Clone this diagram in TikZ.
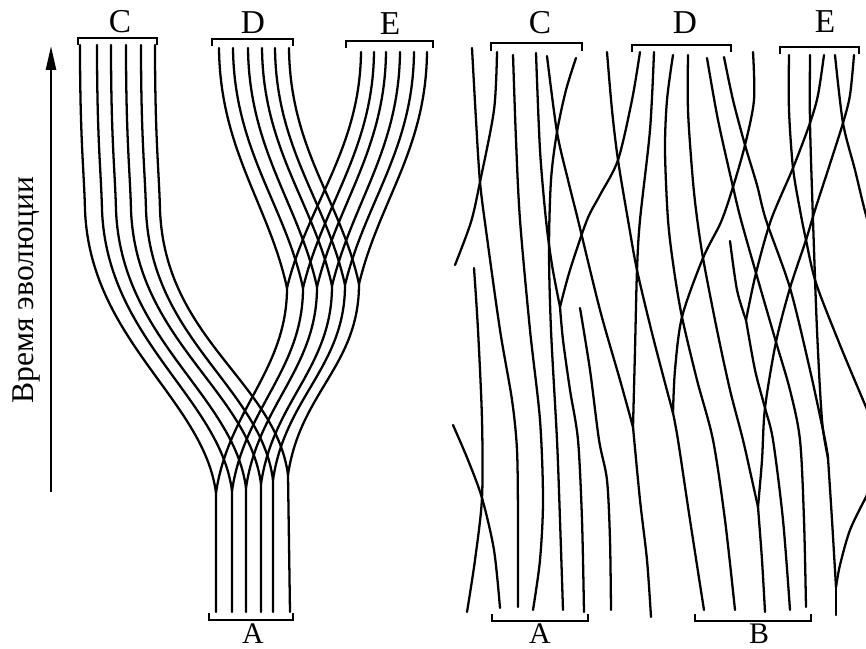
\documentclass[tikz,border=0pt]{standalone}
\usepackage{fontspec}
\setmainfont{Liberation Serif}
\usetikzlibrary{arrows.meta}

\begin{document}
\begin{tikzpicture}[
  x=0.02cm,y=-0.02cm,
  lin/.style={line width=1.3pt,draw=black,line cap=round,line join=round},
  brk/.style={line width=1.1pt,draw=black},
  lbl/.style={inner sep=0pt,font=\fontsize{19}{19}\selectfont},
  blbl/.style={inner sep=0pt,font=\fontsize{17}{17}\selectfont},
  axis/.style={line width=1.4pt,-{Triangle[length=4.8mm,width=2mm]}}
]
\useasboundingbox (0,0) rectangle (866,649);

\coordinate (tb) at (51,492);
\coordinate (tt) at (51,46);
\draw[axis] (tb) -- (tt);
\node[lbl,font=\fontsize{18}{18}\selectfont,rotate=90,anchor=base] (tlab) at (33,290) {Время эволюции};

\node[lbl] (lC) at (120,22) {C};
\node[lbl] (lD) at (253,23) {D};
\node[lbl] (lE) at (390,24) {E};
\node[blbl] (lA) at (253,634) {A};
\draw[brk] (78,45) -- (78,38) -- (157,38) -- (157,45);
\draw[brk] (212,46) -- (212,39) -- (293,39) -- (293,46);
\draw[brk] (346,48) -- (346,41) -- (433,41) -- (433,48);
\draw[brk] (209,613) -- (209,620) -- (293,620) -- (293,613);

\coordinate (c0) at (80,45);
\coordinate (c1) at (97,45);
\coordinate (c2) at (111,45);
\coordinate (c3) at (126,45);
\coordinate (c4) at (141,45);
\coordinate (c5) at (155,45);
\coordinate (d0) at (219,48);
\coordinate (d1) at (233,48);
\coordinate (d2) at (248,48);
\coordinate (d3) at (262,48);
\coordinate (d4) at (275,48);
\coordinate (d5) at (289,48);
\coordinate (e0) at (361,52);
\coordinate (e1) at (374,52);
\coordinate (e2) at (386,52);
\coordinate (e3) at (400,52);
\coordinate (e4) at (414,52);
\coordinate (e5) at (427,52);
\coordinate (m0) at (287,288);
\coordinate (m1) at (303,288);
\coordinate (m2) at (317,287);
\coordinate (m3) at (332,286);
\coordinate (m4) at (345,285);
\coordinate (m5) at (359,284);
\coordinate (a0) at (216,493);
\coordinate (a1) at (232,491);
\coordinate (a2) at (246,488);
\coordinate (a3) at (261,484);
\coordinate (a4) at (273,480);
\coordinate (a5) at (288,475);
\coordinate (b0) at (216,612);
\coordinate (b1) at (232,612);
\coordinate (b2) at (246,612);
\coordinate (b3) at (261,612);
\coordinate (b4) at (273,612);
\coordinate (b5) at (290,612);

\draw[lin] (c0) .. controls (80,140) and (84,170) .. (85,210) .. controls (90,340) and (204,400) .. (a0) -- (b0);
\draw[lin] (c1) .. controls (97,140) and (101,170) .. (102,210) .. controls (107,340) and (220,398) .. (a1) -- (b1);
\draw[lin] (c2) .. controls (111,140) and (115,170) .. (116,210) .. controls (121,340) and (234,395) .. (a2) -- (b2);
\draw[lin] (c3) .. controls (126,140) and (130,170) .. (131,210) .. controls (136,340) and (249,391) .. (a3) -- (b3);
\draw[lin] (c4) .. controls (141,140) and (145,170) .. (146,210) .. controls (151,340) and (261,387) .. (a4) -- (b4);
\draw[lin] (c5) .. controls (155,140) and (159,170) .. (160,210) .. controls (165,340) and (276,382) .. (a5) -- (b5);

\draw[lin] (d0) .. controls (220,150) and (269,205) .. (m0) .. controls (287,370) and (228,410) .. (a0);
\draw[lin] (d1) .. controls (234,150) and (285,205) .. (m1) .. controls (303,370) and (244,408) .. (a1);
\draw[lin] (d2) .. controls (249,150) and (299,204) .. (m2) .. controls (317,369) and (258,405) .. (a2);
\draw[lin] (d3) .. controls (263,150) and (314,203) .. (m3) .. controls (332,368) and (273,401) .. (a3);
\draw[lin] (d4) .. controls (276,150) and (327,202) .. (m4) .. controls (345,367) and (285,397) .. (a4);
\draw[lin] (d5) .. controls (290,150) and (341,201) .. (m5) .. controls (359,366) and (300,392) .. (a5);

\draw[lin] (e0) .. controls (360,150) and (307,205) .. (m0);
\draw[lin] (e1) .. controls (373,150) and (323,205) .. (m1);
\draw[lin] (e2) .. controls (385,150) and (337,204) .. (m2);
\draw[lin] (e3) .. controls (399,150) and (352,203) .. (m3);
\draw[lin] (e4) .. controls (413,150) and (365,202) .. (m4);
\draw[lin] (e5) .. controls (426,150) and (379,201) .. (m5);

\node[lbl] (rC) at (540,23) {C};
\node[lbl] (rD) at (685,23) {D};
\node[lbl] (rE) at (825,22) {E};
\node[blbl] (rA) at (540,634) {A};
\node[blbl] (rB) at (759,634) {B};
\draw[brk] (491,51) -- (491,43) -- (582,43) -- (582,51);
\draw[brk] (632,52) -- (632,45) -- (731,45) -- (731,52);
\draw[brk] (780,54) -- (780,47) -- (859,47) -- (859,54);
\draw[brk] (492,614) -- (492,621) -- (588,621) -- (588,614);
\draw[brk] (695,614) -- (695,621) -- (811,621) -- (811,614);

\coordinate (v1) at (560,307);
\coordinate (v2) at (633,427);
\coordinate (v3) at (673,413);
\coordinate (v4) at (758,507);
\coordinate (v5) at (828,458);
\coordinate (v6) at (746,320);
\coordinate (v7) at (836,587);

\draw[lin] plot[smooth] coordinates {(472,48) (476,120) (480,182) (486,230) (500,330) (512,400) (517,450) (518,520) (518,607)};
\draw[lin] plot[smooth] coordinates {(497,52) (494,110) (480,182) (471,222) (455,265)};
\draw[lin] plot[smooth] coordinates {(513,55) (516,140) (520,220) (530,330) (540,420) (543,500) (540,560) (533,610)};
\draw[lin] plot[smooth] coordinates {(536,53) (540,150) (546,220) (552,265) (v1)};
\draw[lin] plot[smooth] coordinates {(547,56) (557,132) (568,180) (578,220) (600,310) (620,380) (v2)};
\draw[lin] plot[smooth] coordinates {(576,58) (566,90) (557,132) (551,180) (549,250) (551,330) (557,440) (560,520) (563,610)};
\draw[lin] plot[smooth] coordinates {(607,52) (612,110) (618,160) (628,220) (637,270) (653,337) (v3)};
\draw[lin] plot[smooth] coordinates {(640,52) (632,100) (618,160) (600,195) (587,220) (570,270) (v1)};
\draw[lin] plot[smooth] coordinates {(654,52) (650,130) (640,220) (637,270) (635,350) (v2)};
\draw[lin] plot[smooth] coordinates {(v1) (563,340) (570,390) (578,440) (582,520) (584,612)};
\draw[lin] plot[smooth] coordinates {(v2) (640,500) (647,560) (651,617)};
\draw[lin] plot[smooth] coordinates {(474,268) (478,330) (482,420) (482,498) (475,560) (467,612)};
\draw[lin] plot[smooth] coordinates {(580,308) (590,370) (599,440) (607,480) (610,540) (611,610)};
\draw[lin] plot[smooth] coordinates {(453,425) (468,460) (482,498) (494,550) (500,608)};
\draw[lin] plot[smooth] coordinates {(673,55) (667,100) (665,150) (668,220) (674,270) (682,317) (697,380) (713,440) (725,520) (735,610)};
\draw[lin] plot[smooth] coordinates {(688,55) (688,110) (692,170) (696,210) (703,258) (717,330) (730,390) (743,440) (752,480) (v4)};
\draw[lin] plot[smooth] coordinates {(707,58) (718,120) (733,187) (741,220) (756,273) (776,342) (790,390) (800,440) (804,520) (806,607)};
\draw[lin] plot[smooth] coordinates {(724,57) (733,100) (745,145) (757,185) (766,220) (790,288) (810,370) (825,440) (v5)};
\draw[lin] plot[smooth] coordinates {(753,52) (754,100) (745,145) (733,187) (721,222) (703,258) (682,317) (675,370) (v3)};
\draw[lin] plot[smooth] coordinates {(v3) (678,440) (690,520) (704,610)};
\draw[lin] plot[smooth] coordinates {(789,55) (789,110) (793,168) (800,210) (806,240) (816,283) (840,345) (866,407) (880,440)};
\draw[lin] plot[smooth] coordinates {(810,55) (810,123) (813,220) (817,330) (822,420) (v5)};
\draw[lin] plot[smooth] coordinates {(824,55) (818,95) (810,123) (793,168) (771,220) (756,273) (v6)};
\draw[lin] plot[smooth] coordinates {(835,55) (843,123) (855,170) (866,215) (880,260)};
\draw[lin] plot[smooth] coordinates {(854,55) (850,95) (843,123) (828,170) (815,210) (806,240) (790,288) (776,342) (765,408) (762,460) (v4)};
\draw[lin] plot[smooth] coordinates {(730,241) (737,290) (v6)};
\draw[lin] plot[smooth] coordinates {(v6) (755,370) (765,408) (773,440) (783,520) (790,610)};
\draw[lin] plot[smooth] coordinates {(v4) (762,560) (765,612)};
\draw[lin] plot[smooth] coordinates {(v5) (832,520) (v7)};
\draw[lin] plot[smooth] coordinates {(880,470) (866,497) (850,530) (840,565) (v7)};
\draw[lin] plot[smooth] coordinates {(v7) (836,615)};
\end{tikzpicture}
\end{document}
